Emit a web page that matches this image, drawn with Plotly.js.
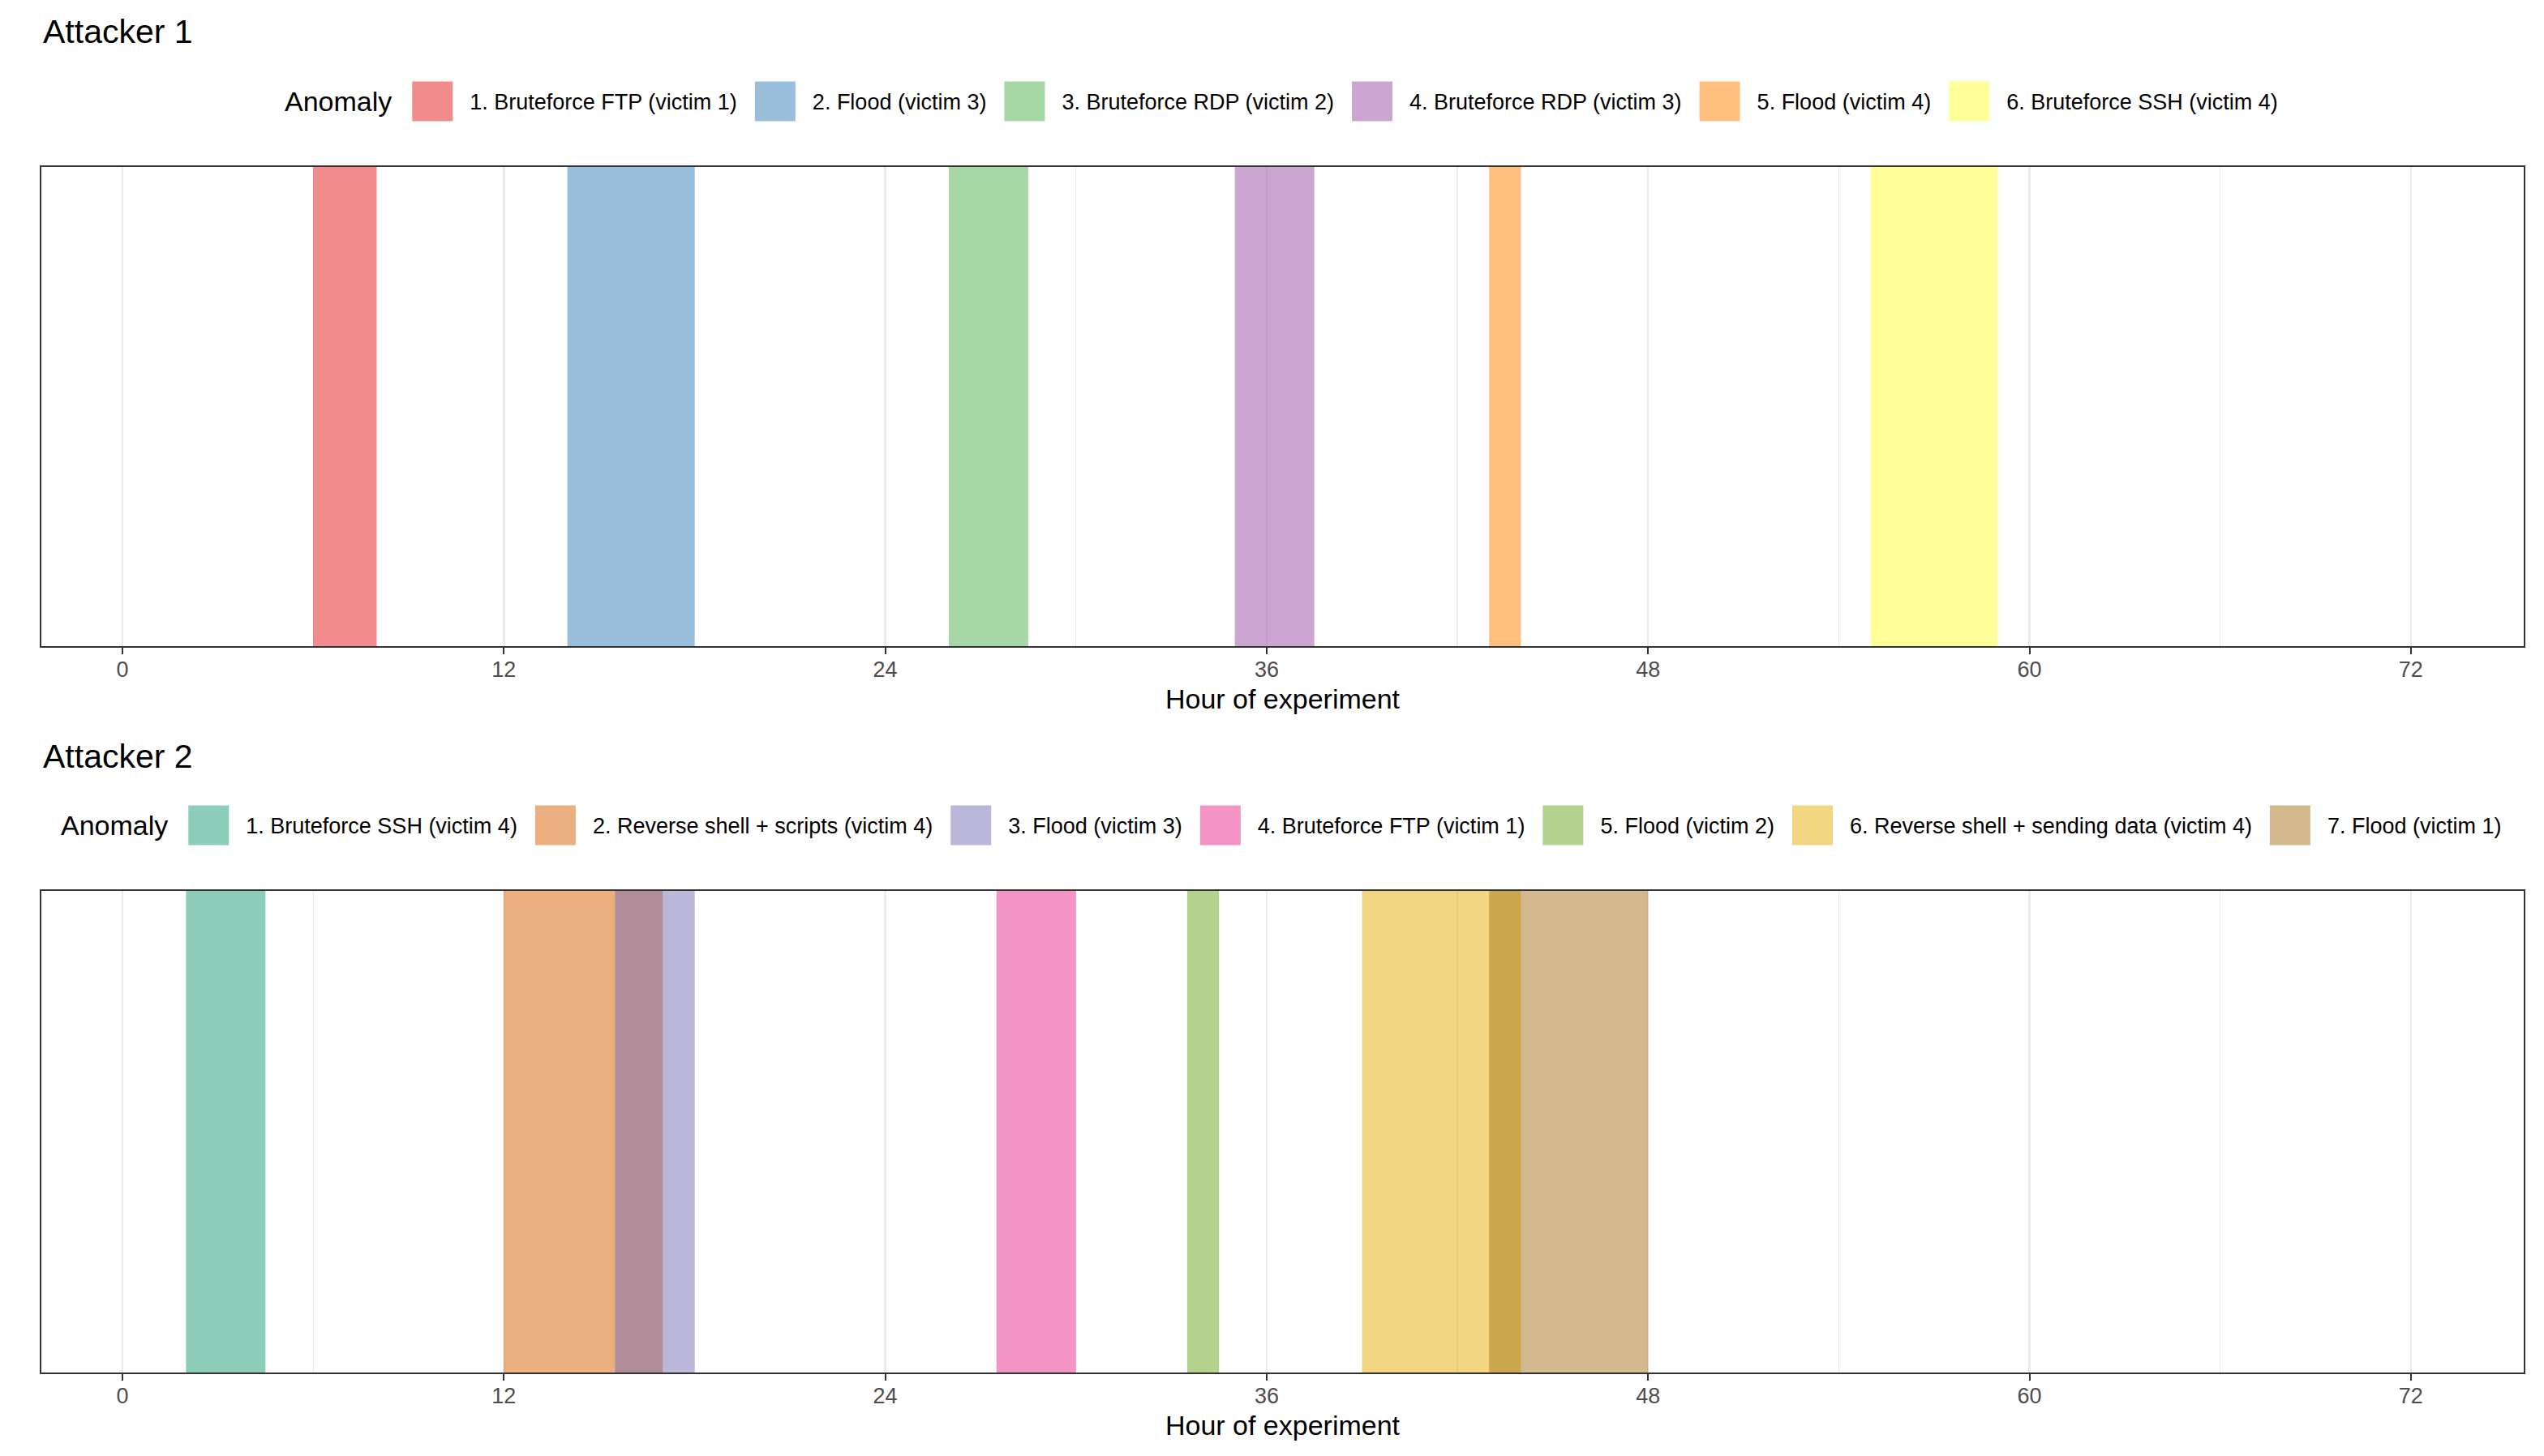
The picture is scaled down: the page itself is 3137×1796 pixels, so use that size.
<!DOCTYPE html>
<html><head><meta charset="utf-8">
<script src="https://cdn.plot.ly/plotly-3.0.1.min.js"></script>
<style>html,body{margin:0;padding:0;background:#fff;}</style>
</head><body>
<div id="chart" style="width:3137px;height:1796px;"></div>
<script>
// ---- data ----
const attacker1Labels = ['1. Bruteforce FTP (victim 1)', '2. Flood (victim 3)', '3. Bruteforce RDP (victim 2)', '4. Bruteforce RDP (victim 3)', '5. Flood (victim 4)', '6. Bruteforce SSH (victim 4)'];
const attacker1Start = [6, 14, 26, 35, 43, 55];
const attacker1End = [8, 18, 28.5, 37.5, 44, 59];
const attacker2Labels = ['1. Bruteforce SSH (victim 4)', '2. Reverse shell + scripts (victim 4)', '3. Flood (victim 3)', '4. Bruteforce FTP (victim 1)', '5. Flood (victim 2)', '6. Reverse shell + sending data (victim 4)', '7. Flood (victim 1)'];
const attacker2Start = [2, 12, 15.5, 27.5, 33.5, 39, 43];
const attacker2End = [4.5, 17, 18, 30, 34.5, 44, 48];
const xTicks = [0, 12, 24, 36, 48, 60, 72];
const xMinorTicks = [6, 18, 30, 42, 54, 66];
const panelTitles = ['Attacker 1', 'Attacker 2'];
const xTitle = 'Hour of experiment';
const legendTitle = 'Anomaly';
// palettes (ColorBrewer Set1 / Dark2, drawn at alpha 0.5)
const set1Colors = ['#E41A1C', '#377EB8', '#4DAF4A', '#984EA3', '#FF7F00', '#FFFF33'];
const dark2Colors = ['#1B9E77', '#D95F02', '#7570B3', '#E7298A', '#66A61E', '#E6AB02', '#A6761D'];

// ---- layout helpers ----
const W = 3137, H = 1796;
const FONT = '"Liberation Sans", Arial, Helvetica, sans-serif';
const py = px => 1 - px / H;
function rgba(hex, a) {
  const n = parseInt(hex.slice(1), 16);
  return `rgba(${(n >> 16) & 255},${(n >> 8) & 255},${n & 255},${a})`;
}

const data = [];
function addTraces(labels, starts, ends, colors, xa, ya, leg) {
  labels.forEach((lab, i) => {
    data.push({
      type: 'bar', orientation: 'h', name: lab,
      y: [0], base: [starts[i]], x: [ends[i] - starts[i]], width: [1],
      marker: {color: rgba(colors[i], 0.5), line: {width: 0}},
      xaxis: xa, yaxis: ya, legend: leg, hoverinfo: 'skip'
    });
  });
}
addTraces(attacker1Labels, attacker1Start, attacker1End, set1Colors, 'x', 'y', 'legend');
addTraces(attacker2Labels, attacker2Start, attacker2End, dark2Colors, 'x2', 'y2', 'legend2');

function xaxisDef(anchor) {
  return {
    anchor: anchor, range: [-2.55, 75.55],
    tickmode: 'array', tickvals: xTicks, ticktext: xTicks.map(String),
    ticks: 'outside', ticklen: 8, tickwidth: 2, tickcolor: '#333333',
    ticklabelstandoff: -4,
    showline: true, linecolor: '#333333', linewidth: 2, mirror: true,
    showgrid: true, gridcolor: '#EBEBEB', gridwidth: 2.5,
    minor: {tickmode: 'array', tickvals: xMinorTicks, showgrid: true, gridcolor: '#EBEBEB', gridwidth: 1.2, ticks: ''},
    zeroline: false,
    tickfont: {family: FONT, size: 27, color: '#4D4D4D'},
    title: {text: xTitle, font: {family: FONT, size: 34, color: '#000000'}, standoff: 10},
    fixedrange: true
  };
}
function yaxisDef(anchor, top, bottom) {
  return {
    anchor: anchor, domain: [py(bottom), py(top)], range: [-0.5, 0.5],
    showticklabels: false, ticks: '', showgrid: false, zeroline: false,
    showline: true, mirror: true, linecolor: '#333333', linewidth: 2, fixedrange: true
  };
}
function legendDef(ypx) {
  return {
    orientation: 'h', x: 0.5, xanchor: 'center', y: py(ypx), yanchor: 'middle',
    itemwidth: 78, bgcolor: 'rgba(0,0,0,0)', traceorder: 'normal',
    font: {family: FONT, size: 27, color: '#000000'},
    title: {text: legendTitle, side: 'left', font: {family: FONT, size: 34, color: '#000000'}}
  };
}

const layout = {
  width: W, height: H,
  margin: {l: 51, r: 25, t: 0, b: 0},
  paper_bgcolor: '#FFFFFF', plot_bgcolor: '#FFFFFF',
  barmode: 'overlay', showlegend: true,
  font: {family: FONT, color: '#000000'},
  xaxis: xaxisDef('y'),
  yaxis: yaxisDef('x', 206, 797),
  xaxis2: xaxisDef('y2'),
  yaxis2: yaxisDef('x2', 1099, 1693),
  legend: legendDef(128),
  legend2: legendDef(1021),
  annotations: [
    {text: panelTitles[0], xref: 'paper', yref: 'paper', x: 0, xanchor: 'left', y: py(39), yanchor: 'middle', showarrow: false, font: {family: FONT, size: 41, color: '#000000'}},
    {text: panelTitles[1], xref: 'paper', yref: 'paper', x: 0, xanchor: 'left', y: py(933), yanchor: 'middle', showarrow: false, font: {family: FONT, size: 41, color: '#000000'}}
  ]
};

// enlarge the legend keys to ggplot-sized squares
function fixLegendKeys() {
  const root = document.getElementById('chart');
  root.querySelectorAll('g.traces').forEach(g => {
    const t = g.querySelector('text');
    const p = g.querySelector('g.legendpoints path');
    if (!t || !p) return;
    const tx = parseFloat(t.getAttribute('x'));
    if (!isFinite(tx)) return;
    const r = tx - 21, l = r - 50;
    const d = `M${r},25H${l}V-25H${r}Z`;
    if (p.getAttribute('d') !== d) p.setAttribute('d', d);
    if (p.hasAttribute('transform')) p.removeAttribute('transform');
  });
  root.querySelectorAll('text[class$="titletext"]').forEach(t => {
    if (!/^legend/.test(t.getAttribute('class') || '')) return;
    if (t.getAttribute('transform') !== 'translate(0,-8)') t.setAttribute('transform', 'translate(0,-8)');
  });
}
const chartDiv = document.getElementById('chart');
const observer = new MutationObserver(fixLegendKeys);
observer.observe(chartDiv, {childList: true, subtree: true, attributes: true, attributeFilter: ['d', 'transform', 'x']});

Plotly.newPlot('chart', data, layout, {staticPlot: true, displayModeBar: false}).then(() => {
  fixLegendKeys();
  chartDiv.on && chartDiv.on('plotly_afterplot', fixLegendKeys);
  let n = 0;
  (function loop() { fixLegendKeys(); if (++n < 60) requestAnimationFrame(loop); })();
});
</script>
</body></html>
